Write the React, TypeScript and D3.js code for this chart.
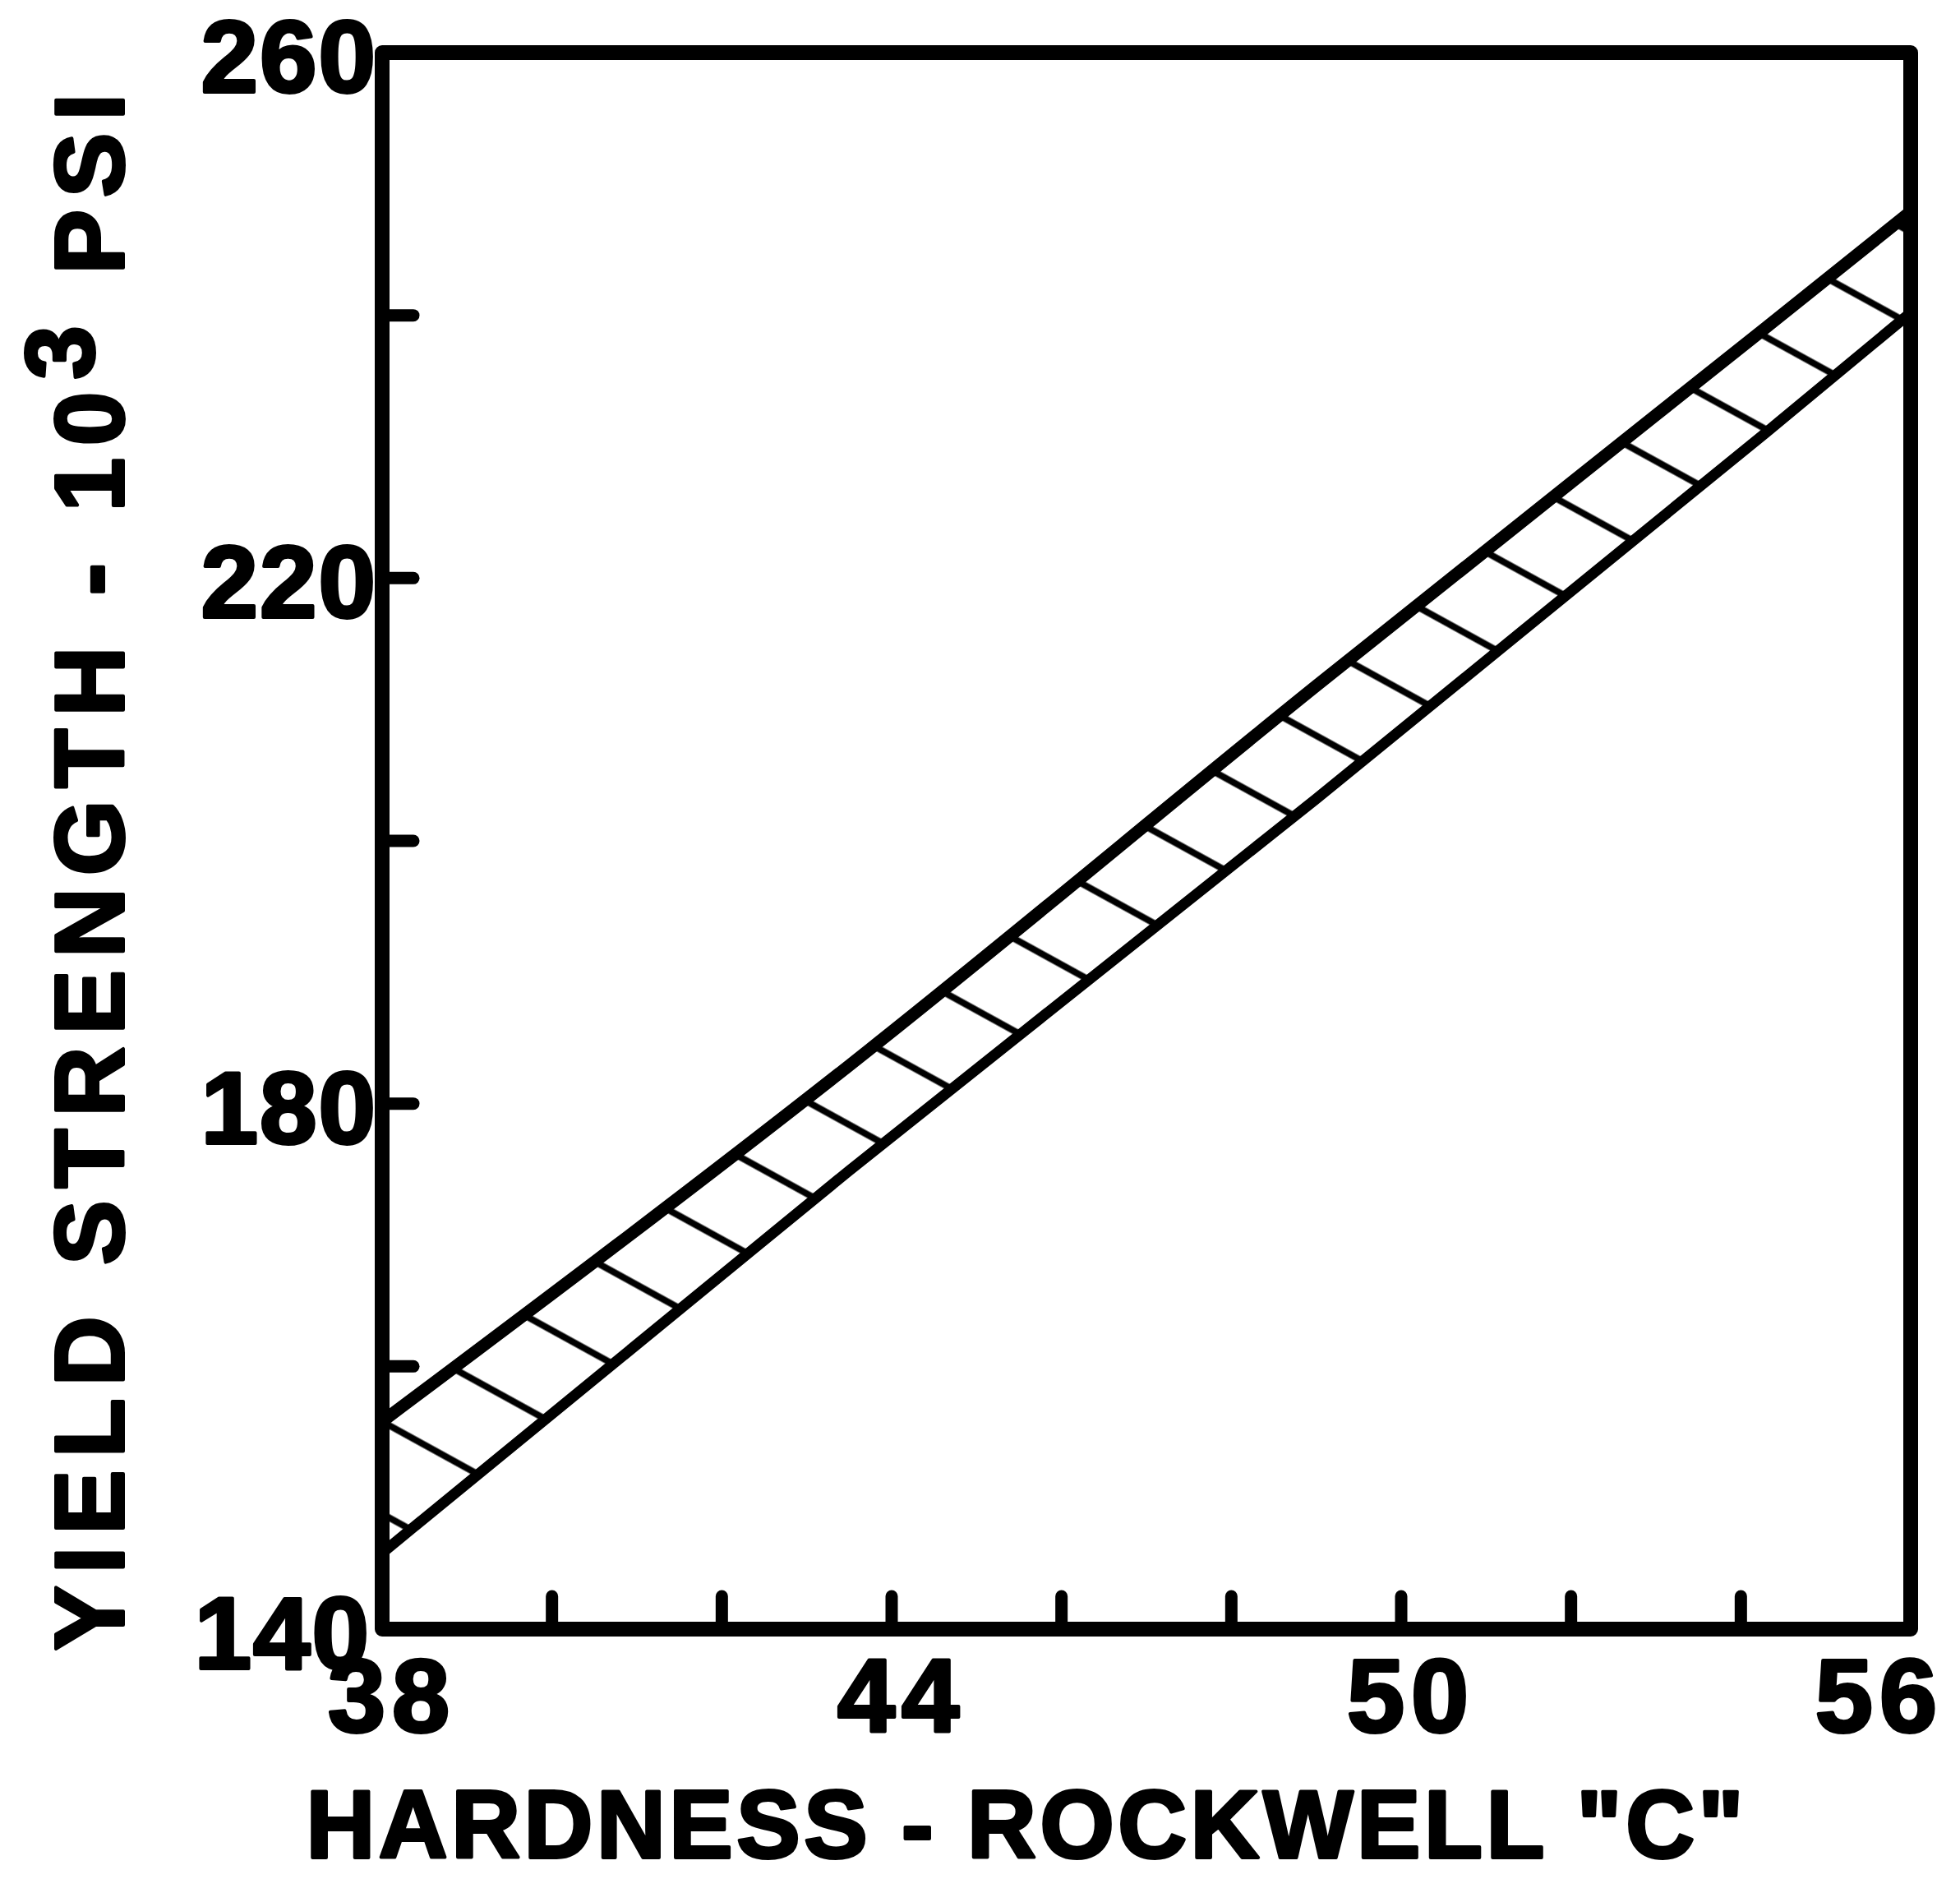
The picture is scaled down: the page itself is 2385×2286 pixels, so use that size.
import React, { useEffect, useRef } from "react";
import * as d3 from "d3";

// yield strength scatter band vs Rockwell C hardness
const hardness = [38, 43.5, 49, 54.3, 56];
const upperBound = [155.8, 182.9, 211.8, 239.1, 247.9];
const lowerBound = [145.8, 174.9, 203.2, 231.1, 240.2];

const xTicks = [38, 40, 42, 44, 46, 48, 50, 52, 54, 56];
const xTickLabels = [38, 44, 50, 56];
const yTicks = [140, 160, 180, 200, 220, 240, 260];
const yTickLabels = [140, 180, 220, 260];

const WIDTH = 2385;
const HEIGHT = 2286;
const margin = { top: 64, right: 60, bottom: 304, left: 465 };

// hatch texture of the band
const HATCH_STEP = 0.81; // hardness units between strokes along the upper edge
const HATCH_SLOPE = 0.55; // screen px down per px right

const FONT = "'Liberation Sans', Arial, sans-serif";

const App = () => {
  const divRef = useRef<HTMLDivElement>(null);

  useEffect(() => {
    d3.select(divRef.current).selectAll("svg").remove();
    draw();
    // eslint-disable-next-line
  }, []);

  const draw = () => {
    const svg = d3
      .select(divRef.current)
      .append("svg")
      .attr("width", WIDTH)
      .attr("height", HEIGHT)
      .style("position", "absolute")
      .style("left", 0)
      .style("top", 0)
      .style("background", "#fff");

    const x = d3.scaleLinear().domain([38, 56]).range([margin.left, WIDTH - margin.right]);
    const y = d3.scaleLinear().domain([140, 260]).range([HEIGHT - margin.bottom, margin.top]);

    const n = hardness.length;
    const slopePx = (y(upperBound[0]) - y(upperBound[n - 1])) / (x(hardness[n - 1]) - x(hardness[0]));
    const stepPx = x(hardness[0] + HATCH_STEP) - x(hardness[0]);
    const gap = ((slopePx + HATCH_SLOPE) * stepPx) / Math.sqrt(1 + HATCH_SLOPE * HATCH_SLOPE);
    const phi = (Math.atan(HATCH_SLOPE) * 180) / Math.PI - 90;
    const ax = x(hardness[0]);
    const ay = y(upperBound[0]);

    const defs = svg.append("defs");
    const pattern = defs
      .append("pattern")
      .attr("id", "hatch")
      .attr("patternUnits", "userSpaceOnUse")
      .attr("width", gap)
      .attr("height", gap)
      .attr("patternTransform", `translate(${ax},${ay}) rotate(${phi}) translate(${-gap / 2},0)`);
    pattern
      .append("rect")
      .attr("x", gap / 2 - 4)
      .attr("y", 0)
      .attr("width", 8)
      .attr("height", gap)
      .attr("fill", "#000");

    defs
      .append("clipPath")
      .attr("id", "plot-clip")
      .append("rect")
      .attr("x", x(38))
      .attr("y", y(260))
      .attr("width", x(56) - x(38))
      .attr("height", y(140) - y(260));

    const band = svg.append("g").attr("clip-path", "url(#plot-clip)");

    const area = d3
      .area<number>()
      .curve(d3.curveMonotoneX)
      .x((d, i) => x(hardness[i]))
      .y0((d, i) => y(lowerBound[i]))
      .y1((d) => y(d));

    band.append("path").datum(upperBound).attr("d", area).attr("fill", "url(#hatch)");

    const line = d3
      .line<number>()
      .curve(d3.curveMonotoneX)
      .x((d, i) => x(hardness[i]))
      .y((d) => y(d));

    band
      .append("path")
      .datum(upperBound)
      .attr("d", line)
      .attr("fill", "none")
      .attr("stroke", "#000")
      .attr("stroke-width", 15);

    band
      .append("path")
      .datum(lowerBound)
      .attr("d", line)
      .attr("fill", "none")
      .attr("stroke", "#000")
      .attr("stroke-width", 13);

    // ticks point inward
    svg
      .append("g")
      .selectAll("line")
      .data(yTicks.filter((t) => t !== 140 && t !== 260))
      .enter()
      .append("line")
      .attr("x1", x(38))
      .attr("x2", x(38) + 38)
      .attr("y1", (d) => y(d))
      .attr("y2", (d) => y(d))
      .attr("stroke", "#000")
      .attr("stroke-width", 15)
      .attr("stroke-linecap", "round");

    svg
      .append("g")
      .selectAll("line")
      .data(xTicks.filter((t) => t !== 38 && t !== 56))
      .enter()
      .append("line")
      .attr("x1", (d) => x(d))
      .attr("x2", (d) => x(d))
      .attr("y1", y(140))
      .attr("y2", y(140) - 40)
      .attr("stroke", "#000")
      .attr("stroke-width", 15)
      .attr("stroke-linecap", "round");

    svg
      .append("rect")
      .attr("x", x(38))
      .attr("y", y(260))
      .attr("width", x(56) - x(38))
      .attr("height", y(140) - y(260))
      .attr("fill", "none")
      .attr("stroke", "#000")
      .attr("stroke-width", 18)
      .attr("stroke-linejoin", "round");

    const textStyle = (sel: any) =>
      sel
        .style("font-family", FONT)
        .style("font-weight", "bold")
        .attr("fill", "#000")
        .attr("stroke", "#000")
        .attr("stroke-width", 4)
        .attr("stroke-linejoin", "round");

    svg
      .append("g")
      .selectAll("text")
      .data(yTickLabels)
      .enter()
      .append("text")
      .attr("x", (d) => x(38) - (d === 140 ? 14 : 6))
      .attr("y", (d) => y(d) + 48)
      .attr("text-anchor", "end")
      .style("font-size", "125px")
      .style("letter-spacing", "2px")
      .text((d) => d)
      .call(textStyle);

    svg
      .append("g")
      .selectAll("text")
      .data(xTickLabels)
      .enter()
      .append("text")
      .attr("x", (d) => (d === 56 ? x(d) + 40 : x(d) + 12))
      .attr("y", y(140) + 125)
      .attr("text-anchor", (d) => (d === 56 ? "end" : "middle"))
      .style("font-size", "126px")
      .style("letter-spacing", "8px")
      .text((d) => d)
      .call(textStyle);

    svg
      .append("text")
      .attr("x", 1247)
      .attr("y", 2260)
      .attr("text-anchor", "middle")
      .attr("textLength", 1749)
      .style("font-size", "116px")
      .text('HARDNESS - ROCKWELL "C"')
      .call(textStyle);

    const yTitle = svg
      .append("text")
      .attr("transform", "translate(150,1061) rotate(-90)")
      .attr("text-anchor", "middle")
      .attr("textLength", 1894)
      .style("font-size", "118px")
      .call(textStyle);
    yTitle.append("tspan").text("YIELD STRENGTH - 10");
    yTitle.append("tspan").attr("dy", -36).text("3");
    yTitle.append("tspan").attr("dy", 36).text(" PSI");
  };

  return <div ref={divRef} className="chart"></div>;
};

export default App;
